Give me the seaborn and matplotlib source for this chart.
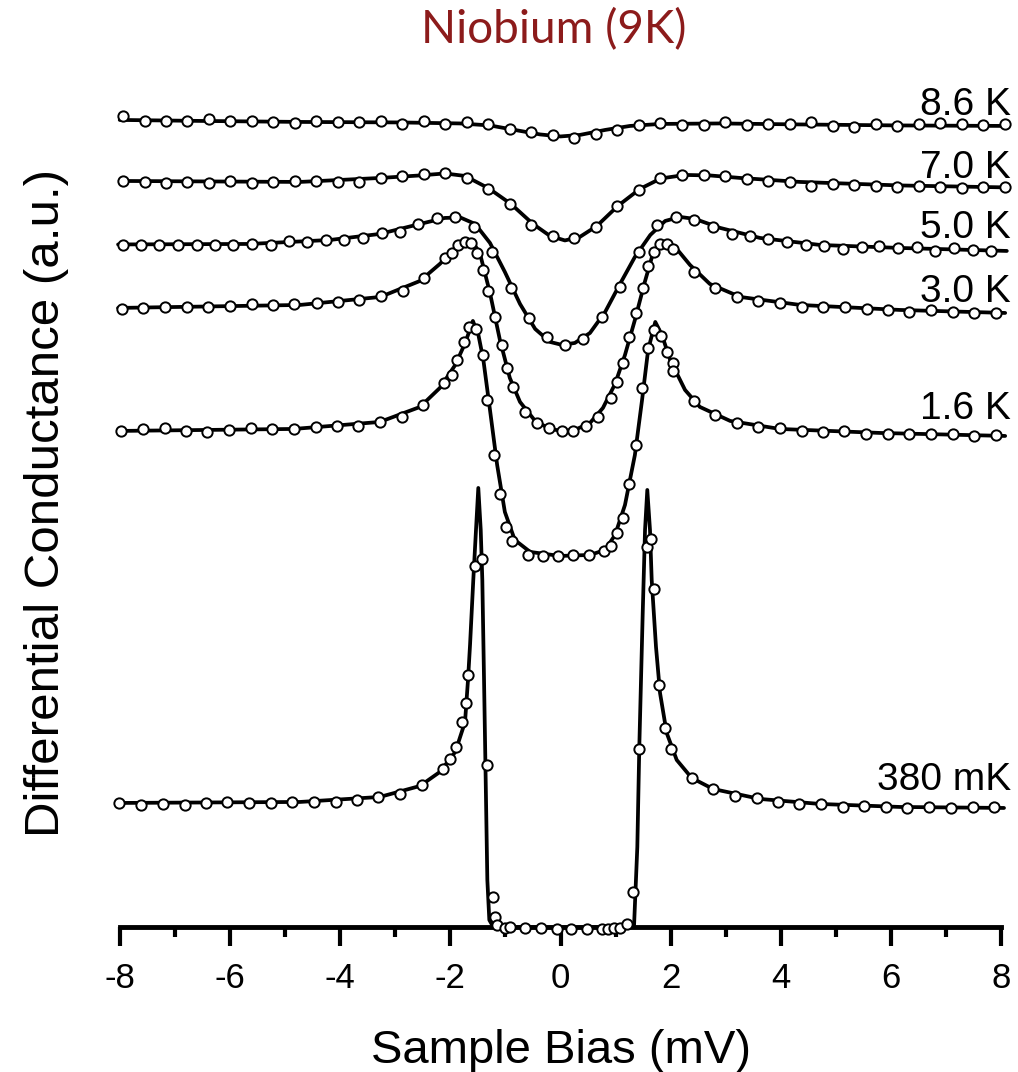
import matplotlib
matplotlib.use("Agg")
import matplotlib.pyplot as plt
import seaborn as sns
import pandas as pd

# ---------------- data ----------------
bias_ticks = [-8, -6, -4, -2, 0, 2, 4, 6, 8]
bias_minor = [-7, -5, -3, -1, 1, 3, 5, 7]

# common bias grid of the 8.6 K and 7.0 K measurements (mV)
grid_a = [-7.945, -7.55, -7.16, -6.77, -6.38, -5.99, -5.60, -5.21, -4.82, -4.43,
          -4.04, -3.65, -3.26, -2.87, -2.48, -2.09, -1.70, -1.31, -0.92, -0.53,
          -0.14, 0.25, 0.64, 1.03, 1.42, 1.81, 2.21, 2.60, 2.99, 3.38,
          3.77, 4.16, 4.55, 4.94, 5.33, 5.72, 6.11, 6.50, 6.89, 7.28, 7.67, 8.06]

t86_y = [8.105, 8.06, 8.055, 8.06, 8.075, 8.06, 8.06, 8.05, 8.04, 8.055,
         8.05, 8.045, 8.055, 8.03, 8.06, 8.03, 8.045, 8.025, 7.98, 7.95,
         7.92, 7.89, 7.925, 7.965, 8.015, 8.035, 8.02, 8.02, 8.045, 8.015,
         8.025, 8.025, 8.045, 8.005, 8.00, 8.025, 8.005, 8.025, 8.035, 8.025, 8.02, 8.03]
t86_fit_x = [-8.0, -6.5, -4.7, -2.9, -1.83, -1.28, -0.83, -0.37, 0.0, 0.35, 0.81, 1.26,
             1.81, 2.90, 4.35, 6.16, 8.1]
t86_fit_y = [8.07, 8.06, 8.05, 8.045, 8.035, 8.015, 7.97, 7.925, 7.905, 7.92, 7.97, 8.01,
             8.03, 8.035, 8.025, 8.015, 8.01]

t70_y = [7.463, 7.453, 7.443, 7.45, 7.437, 7.46, 7.437, 7.447, 7.457, 7.46,
         7.453, 7.447, 7.493, 7.51, 7.527, 7.537, 7.493, 7.383, 7.227, 7.02,
         6.91, 6.893, 7.003, 7.21, 7.37, 7.487, 7.52, 7.52, 7.51, 7.477,
         7.463, 7.453, 7.413, 7.427, 7.42, 7.41, 7.397, 7.413, 7.397, 7.387, 7.397, 7.397]
t70_fit_x = [-8.0, -4.73, -3.27, -2.55, -2.10, -1.733, -1.30, -0.90, -0.50, -0.19, 0.08,
             0.35, 0.66, 1.04, 1.44, 1.82, 2.26, 2.71, 3.26, 4.35, 6.16, 8.12]
t70_fit_y = [7.46, 7.45, 7.49, 7.515, 7.535, 7.51, 7.385, 7.23, 7.03, 6.91, 6.865,
             6.90, 7.01, 7.21, 7.38, 7.485, 7.52, 7.515, 7.49, 7.45, 7.415, 7.395]

t50_x = [-7.945, -7.613, -7.281, -6.947, -6.603, -6.270, -5.938, -5.604, -5.260, -4.927,
         -4.595, -4.256, -3.924, -3.590, -3.245, -2.913, -2.581, -2.247, -1.915, -1.570,
         -1.238, -0.904, -0.572, -0.250, 0.082, 0.414, 0.748, 1.080, 1.430, 1.757,
         2.096, 2.428, 2.762, 3.107, 3.439, 3.771, 4.116, 4.456, 4.782, 5.122,
         5.466, 5.786, 6.131, 6.465, 6.797, 7.142, 7.481, 7.808]
t50_y = [6.82, 6.82, 6.82, 6.82, 6.82, 6.82, 6.82, 6.83, 6.82, 6.86,
         6.85, 6.87, 6.87, 6.89, 6.94, 6.95, 7.03, 7.09, 7.10, 7.00,
         6.75, 6.39, 6.09, 5.90, 5.82, 5.88, 6.10, 6.40, 6.75, 7.02,
         7.10, 7.07, 7.00, 6.93, 6.91, 6.88, 6.85, 6.82, 6.81, 6.78,
         6.80, 6.81, 6.79, 6.80, 6.76, 6.79, 6.77, 6.76]
t50_fit_x = [-8.03, -5.64, -4.18, -3.28, -2.55, -2.10, -1.82, -1.55, -1.28, -1.01, -0.735,
             -0.46, -0.19, 0.03, 0.26, 0.535, 0.81, 1.08, 1.35, 1.63, 1.90, 2.17, 2.44,
             2.90, 3.62, 4.71, 6.16, 8.10]
t50_fit_y = [6.825, 6.83, 6.87, 6.93, 7.03, 7.09, 7.095, 7.03, 6.84, 6.55, 6.23,
             5.98, 5.85, 5.82, 5.84, 5.94, 6.15, 6.43, 6.70, 6.92, 7.06, 7.10, 7.08,
             6.99, 6.89, 6.82, 6.79, 6.76]

t30_x = [-7.964, -7.572, -7.178, -6.784, -6.392, -5.998, -5.604, -5.223, -4.831, -4.425,
         -4.033, -3.652, -3.258, -2.864, -2.477, -2.096, -1.975, -1.855, -1.733, -1.630,
         -1.521, -1.401, -1.310, -1.189, -1.067, -0.976, -0.868, -0.644, -0.432, -0.203,
         0.022, 0.232, 0.463, 0.672, 0.911, 1.020, 1.129, 1.252, 1.370, 1.503,
         1.583, 1.702, 1.806, 1.927, 2.047, 2.423, 2.804, 3.198, 3.590, 3.984,
         4.377, 4.770, 5.163, 5.557, 5.949, 6.330, 6.724, 7.118, 7.510, 7.904]
t30_y = [6.18, 6.19, 6.20, 6.20, 6.20, 6.21, 6.23, 6.22, 6.23, 6.24,
         6.25, 6.27, 6.31, 6.36, 6.49, 6.69, 6.74, 6.82, 6.85, 6.84,
         6.74, 6.57, 6.36, 6.10, 5.82, 5.59, 5.40, 5.15, 5.04, 4.99,
         4.96, 4.96, 5.01, 5.10, 5.29, 5.45, 5.64, 5.90, 6.14, 6.39,
         6.61, 6.75, 6.83, 6.83, 6.78, 6.55, 6.39, 6.30, 6.26, 6.24,
         6.20, 6.20, 6.20, 6.18, 6.17, 6.15, 6.17, 6.15, 6.14, 6.14]
t30_fit_x = [-8.03, -4.73, -3.27, -2.55, -2.19, -1.91, -1.73, -1.60, -1.46, -1.28, -1.10,
             -0.92, -0.735, -0.46, -0.19, 0.03, 0.26, 0.535, 0.77, 0.99, 1.17, 1.35,
             1.53, 1.66, 1.80, 1.93, 2.08, 2.35, 2.71, 3.26, 4.35, 6.16, 8.07]
t30_fit_y = [6.19, 6.22, 6.30, 6.46, 6.63, 6.79, 6.86, 6.86, 6.73, 6.34, 5.87,
             5.49, 5.25, 5.06, 4.98, 4.96, 4.97, 5.04, 5.19, 5.43, 5.72, 6.07,
             6.45, 6.70, 6.82, 6.845, 6.80, 6.62, 6.43, 6.30, 6.22, 6.17, 6.14]

t16_x = [-7.982, -7.583, -7.178, -6.797, -6.410, -6.011, -5.623, -5.230, -4.837, -4.443,
         -4.051, -3.670, -3.276, -2.882, -2.501, -2.114, -1.975, -1.873, -1.751, -1.655,
         -1.534, -1.412, -1.328, -1.207, -1.098, -0.989, -0.875, -0.595, -0.323, -0.040,
         0.232, 0.517, 0.789, 0.917, 1.020, 1.129, 1.243, 1.370, 1.485, 1.593,
         1.702, 1.824, 1.927, 2.036, 2.047, 2.423, 2.804, 3.198, 3.590, 3.984,
         4.377, 4.770, 5.151, 5.544, 5.938, 6.330, 6.724, 7.118, 7.510, 7.904]
t16_y = [4.96, 4.98, 4.99, 4.96, 4.95, 4.97, 4.99, 4.98, 4.98, 5.00,
         5.01, 5.01, 5.05, 5.10, 5.22, 5.44, 5.52, 5.67, 5.85, 6.00,
         5.98, 5.72, 5.27, 4.72, 4.33, 4.00, 3.86, 3.72, 3.71, 3.71,
         3.72, 3.72, 3.76, 3.81, 3.94, 4.09, 4.43, 4.82, 5.39, 5.79,
         5.97, 5.91, 5.75, 5.64, 5.56, 5.26, 5.12, 5.04, 5.00, 4.99,
         4.96, 4.95, 4.96, 4.93, 4.93, 4.93, 4.93, 4.93, 4.91, 4.92]
t16_fit_x = [-8.03, -4.84, -3.28, -2.55, -2.19, -1.91, -1.73, -1.59, -1.49, -1.40, -1.28,
             -1.15, -1.01, -0.83, -0.55, -0.01, 0.535, 0.81, 0.99, 1.17, 1.35, 1.48,
             1.59, 1.72, 1.84, 1.99, 2.26, 2.53, 3.08, 3.98, 5.80, 8.07]
t16_fit_y = [4.96, 4.98, 5.05, 5.20, 5.39, 5.62, 5.84, 6.06, 5.92, 5.67, 5.17,
             4.62, 4.15, 3.87, 3.75, 3.71, 3.72, 3.77, 3.92, 4.22, 4.72, 5.27,
             5.77, 6.05, 5.92, 5.67, 5.37, 5.20, 5.06, 4.98, 4.94, 4.91]

t038_x = [-8.007, -7.613, -7.220, -6.815, -6.434, -6.047, -5.653, -5.260, -4.868, -4.474,
          -4.080, -3.699, -3.307, -2.913, -2.519, -2.127, -2.005, -1.897, -1.782, -1.720,
          -1.673, -1.552, -1.430, -1.339, -1.230, -1.189, -1.147, -1.007, -0.917, -0.644,
          -0.354, -0.069, 0.185, 0.475, 0.748, 0.868, 0.971, 1.080, 1.212, 1.310,
          1.430, 1.564, 1.637, 1.697, 1.793, 1.897, 2.005, 2.381, 2.773, 3.167,
          3.561, 3.953, 4.334, 4.722, 5.122, 5.508, 5.907, 6.294, 6.688, 7.082,
          7.481, 7.868]
t038_y = [1.24, 1.22, 1.23, 1.22, 1.24, 1.25, 1.24, 1.24, 1.25, 1.25,
          1.25, 1.27, 1.30, 1.33, 1.42, 1.58, 1.68, 1.80, 2.05, 2.24,
          2.52, 3.61, 3.68, 1.62, 0.30, 0.10, 0.02, -0.01, 0.00, -0.01,
          -0.01, -0.02, -0.02, -0.02, -0.02, -0.02, -0.01, -0.01, 0.03, 0.35,
          1.78, 3.80, 3.88, 3.38, 2.42, 1.99, 1.78, 1.49, 1.38, 1.31,
          1.29, 1.25, 1.23, 1.23, 1.20, 1.21, 1.20, 1.19, 1.20, 1.19,
          1.20, 1.20]
t038_fit_x = [-8.03, -4.73, -3.28, -2.55, -2.19, -1.91, -1.733, -1.679, -1.642, -1.583,
              -1.534, -1.492, -1.448, -1.419, -1.388, -1.358, -1.328, -1.292, -1.220,
              -0.01, 1.243, 1.334, 1.394, 1.430, 1.492, 1.534, 1.575, 1.624, 1.655,
              1.733, 1.806, 1.927, 2.109, 2.381, 2.768, 3.621, 4.710, 6.162, 8.049]
t038_fit_y = [1.24, 1.25, 1.30, 1.41, 1.55, 1.75, 2.05, 2.47, 2.82, 3.47,
              3.97, 4.39, 3.97, 3.47, 2.47, 1.47, 0.47, 0.07, 0.00,
              -0.005, 0.0, 0.003, 0.80, 1.80, 3.14, 3.97, 4.37, 3.97, 3.47,
              2.80, 2.34, 1.94, 1.67, 1.49, 1.38, 1.28, 1.23, 1.20, 1.19]

curve_names = ["8.6 K", "7.0 K", "5.0 K", "3.0 K", "1.6 K", "380 mK"]
label_pos_y = [8.12, 7.49, 6.89, 6.25, 5.08, 1.37]

points = {
    "8.6 K": (grid_a, t86_y), "7.0 K": (grid_a, t70_y), "5.0 K": (t50_x, t50_y),
    "3.0 K": (t30_x, t30_y), "1.6 K": (t16_x, t16_y), "380 mK": (t038_x, t038_y),
}
fits = {
    "8.6 K": (t86_fit_x, t86_fit_y), "7.0 K": (t70_fit_x, t70_fit_y),
    "5.0 K": (t50_fit_x, t50_fit_y), "3.0 K": (t30_fit_x, t30_fit_y),
    "1.6 K": (t16_fit_x, t16_fit_y), "380 mK": (t038_fit_x, t038_fit_y),
}

pts_df = pd.concat([pd.DataFrame({"bias": v[0], "G": v[1], "T": k}) for k, v in points.items()],
                   ignore_index=True)
fit_df = pd.concat([pd.DataFrame({"bias": v[0], "G": v[1], "T": k}) for k, v in fits.items()],
                   ignore_index=True)

# ---------------- style ----------------
sns.set_style("ticks")
plt.rcParams["font.family"] = ["Liberation Sans", "DejaVu Sans"]
plt.rcParams["axes.unicode_minus"] = False
plt.rcParams["text.color"] = "black"
plt.rcParams["axes.labelcolor"] = "black"
plt.rcParams["xtick.color"] = "black"
plt.rcParams["axes.edgecolor"] = "black"

fig = plt.figure(figsize=(10.18, 10.72), dpi=100)
ax = fig.add_axes([0.1176, 0.1353, 0.866, 0.7808])

for name in curve_names:
    sub = fit_df[fit_df["T"] == name]
    sns.lineplot(data=sub, x="bias", y="G", ax=ax, color="black", lw=2.7,
                 sort=False, estimator=None, clip_on=False, zorder=2)

sns.scatterplot(data=pts_df, x="bias", y="G", ax=ax, marker="o", s=55,
                facecolor="white", edgecolor="black", linewidth=1.4,
                clip_on=False, zorder=3, legend=False)

for name, yl in zip(curve_names, label_pos_y):
    ax.text(8.18, yl, name, ha="right", va="baseline", fontsize=28, color="black")

ax.set_xlim(-8, 8)
ax.set_ylim(0, 8.37)
ax.set_xticks(bias_ticks)
ax.set_xticks(bias_minor, minor=True)
ax.set_xticklabels([str(t) for t in bias_ticks])
ax.set_yticks([])
for s in ["left", "top", "right"]:
    ax.spines[s].set_visible(False)
ax.spines["bottom"].set_linewidth(3.5)
ax.tick_params(axis="x", which="major", direction="out", length=14, width=3,
               labelsize=25, pad=11, color="black", labelcolor="black")
ax.tick_params(axis="x", which="minor", direction="out", length=7, width=3, color="black")

ax.set_xlabel("Sample Bias (mV)", fontsize=34, color="black")
ax.xaxis.set_label_coords(0.5, -0.122)
ax.xaxis.label.set_va("top")
ax.set_ylabel("Differential Conductance (a.u.)", fontsize=35.5, color="black")
ax.yaxis.set_label_coords(-0.0575, 0.5066)

fig.text(0.544, 1 - 43 / 1072, "Niobium (9K)", ha="center", va="baseline",
         fontsize=33, color="#8c1b1b", family=["Lato", "DejaVu Sans"])

fig.savefig("out.png", dpi=100)
